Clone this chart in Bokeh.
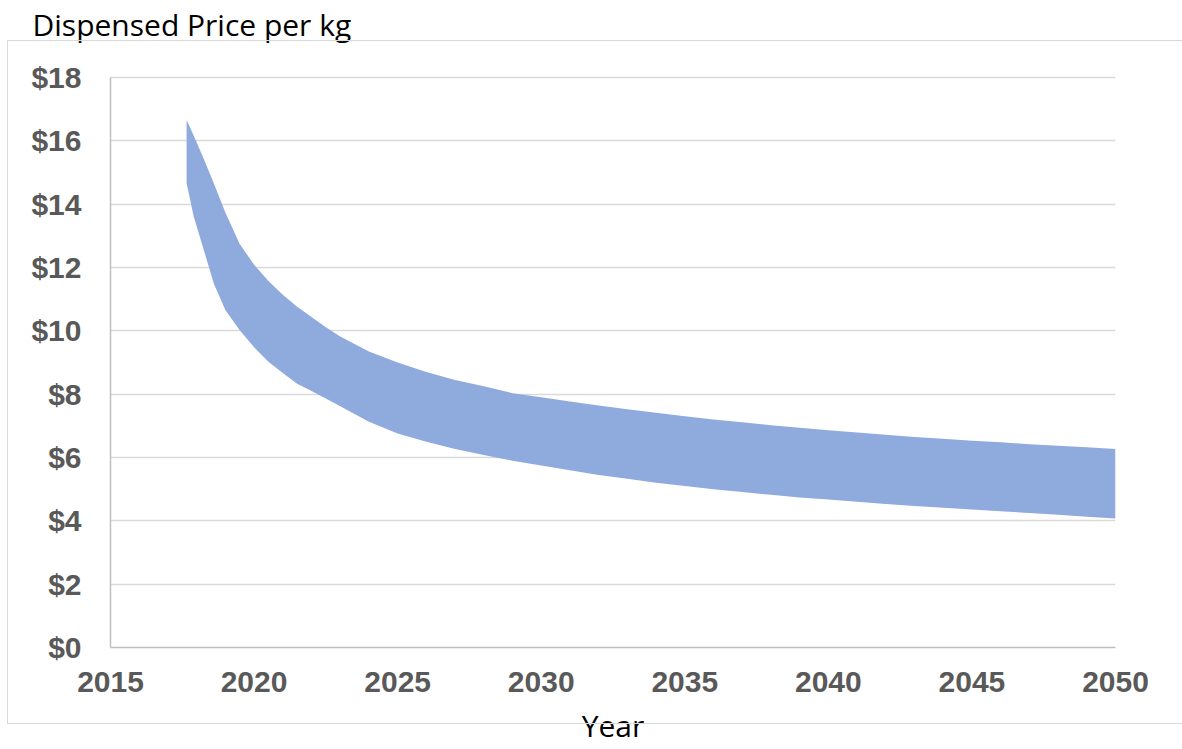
from bokeh.plotting import figure
from bokeh.models import Range1d, FixedTicker, NumeralTickFormatter, InlineStyleSheet
from bokeh.embed import file_html
from bokeh.resources import INLINE

title_text = "Dispensed Price per kg"
x_title = "Year"

years = [2017.65, 2017.9, 2018.25, 2018.6, 2019.0, 2019.5, 2020, 2020.5, 2021, 2021.5,
         2022, 2022.5, 2023, 2024, 2025, 2026, 2027, 2028, 2029, 2030, 2031, 2032,
         2033, 2034, 2035, 2036, 2037, 2038, 2039, 2040, 2041, 2042, 2043, 2044,
         2045, 2046, 2047, 2048, 2049, 2050]
price_high = [16.66, 16.16, 15.43, 14.65, 13.74, 12.74, 12.09, 11.57, 11.14, 10.76,
              10.44, 10.11, 9.82, 9.35, 9.0, 8.7, 8.45, 8.25, 8.03, 7.9, 7.77, 7.64,
              7.52, 7.41, 7.3, 7.2, 7.11, 7.02, 6.94, 6.86, 6.79, 6.72, 6.65, 6.59,
              6.53, 6.48, 6.42, 6.37, 6.32, 6.27]
price_low = [14.66, 13.6, 12.55, 11.49, 10.66, 10.02, 9.48, 9.02, 8.67, 8.33,
             8.1, 7.86, 7.62, 7.13, 6.76, 6.5, 6.27, 6.08, 5.9, 5.75, 5.6, 5.45,
             5.33, 5.2, 5.1, 5.0, 4.91, 4.82, 4.74, 4.67, 4.6, 4.53, 4.47, 4.41,
             4.36, 4.3, 4.25, 4.19, 4.13, 4.07]

x_ticks = [2015, 2020, 2025, 2030, 2035, 2040, 2045, 2050]
y_ticks = [0, 2, 4, 6, 8, 10, 12, 14, 16, 18]
y_min, y_max = 0, 18

W, H = 1182, 749
PLOT_LEFT, PLOT_RIGHT, PLOT_TOP, PLOT_BOTTOM = 110, 1115, 77, 647
FRAME_TOP = 44  # frame extends above $18 to host the title just above it
y_end = y_max * (PLOT_BOTTOM - FRAME_TOP) / (PLOT_BOTTOM - PLOT_TOP)

p = figure(width=W, height=H, output_backend="svg", toolbar_location=None,
           x_range=Range1d(2015, 2050), y_range=Range1d(y_min, y_end),
           min_border_left=PLOT_LEFT, min_border_right=W - PLOT_RIGHT,
           min_border_top=FRAME_TOP, min_border_bottom=H - PLOT_BOTTOM)
p.outline_line_color = None
p.background_fill_color = "white"
p.border_fill_color = "white"

p.varea(x=years, y1=price_low, y2=price_high, fill_color="#8FAADC", fill_alpha=1.0)

p.xaxis.ticker = FixedTicker(ticks=x_ticks)
p.yaxis.ticker = FixedTicker(ticks=y_ticks)
p.yaxis.formatter = NumeralTickFormatter(format="$0")
p.yaxis.bounds = (y_min, y_max)

for ax in (p.xaxis, p.yaxis):
    ax.major_tick_line_color = None
    ax.minor_tick_line_color = None
    ax.axis_line_color = "#BFBFBF"
    ax.axis_line_width = 1.5
    ax.major_label_text_font = "Liberation Sans"
    ax.major_label_text_font_style = "bold"
    ax.major_label_text_font_size = "30px"
    ax.major_label_text_color = "#595959"
p.yaxis.major_label_standoff = 23
p.xaxis.major_label_standoff = 18

p.xaxis.axis_label = x_title
p.xaxis.axis_label_text_font = "Open Sans"
p.xaxis.axis_label_text_font_style = "normal"
p.xaxis.axis_label_text_font_size = "30px"
p.xaxis.axis_label_text_color = "black"
p.xaxis.axis_label_standoff = 10

p.xgrid.grid_line_color = None
p.ygrid.grid_line_color = "#D9D9D9"
p.ygrid.grid_line_width = 1.5

p.title.text = title_text
p.title.text_font = "Open Sans"
p.title.text_font_size = "30px"
p.title.text_font_style = "normal"
p.title.text_color = "black"
p.title.align = "left"
p.title.vertical_align = "bottom"
p.title.offset = -78
p.title.standoff = 0

p.stylesheets = [InlineStyleSheet(css=(
    ":host { position: relative; overflow: hidden; }"
    ":host::after { content: ''; position: absolute; left: 7px; top: 40px;"
    " width: 1176px; height: 684px; box-sizing: border-box;"
    " border: 1.5px solid #D9D9D9; border-right: none; pointer-events: none; }"
))]

open("out.html", "w").write(file_html(p, INLINE))
